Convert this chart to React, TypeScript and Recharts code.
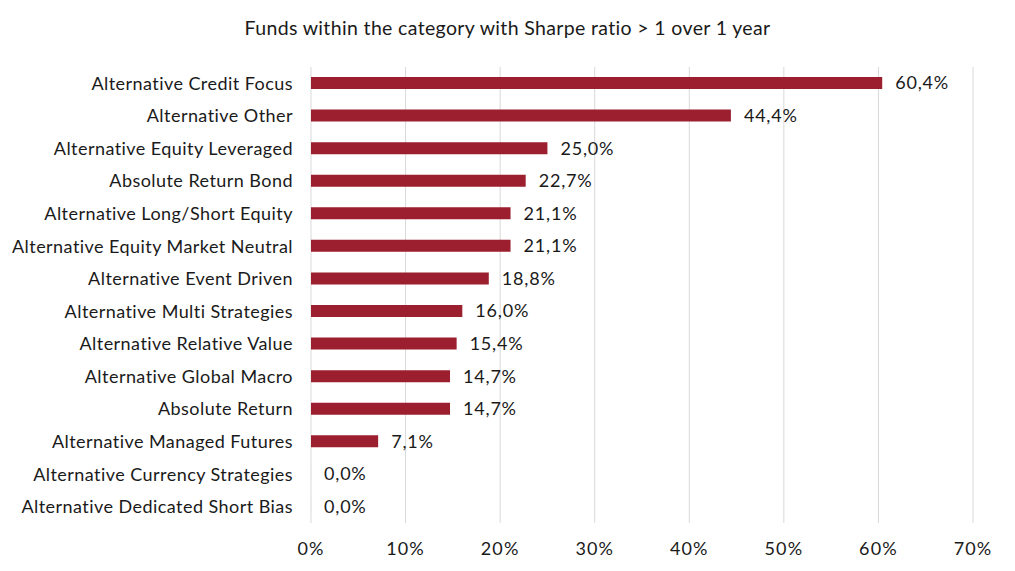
import React from "react";
import { BarChart, Bar, XAxis, YAxis, CartesianGrid, LabelList } from "recharts";

const categories = [
  "Alternative Credit Focus",
  "Alternative Other",
  "Alternative Equity Leveraged",
  "Absolute Return Bond",
  "Alternative Long/Short Equity",
  "Alternative Equity Market Neutral",
  "Alternative Event Driven",
  "Alternative Multi Strategies",
  "Alternative Relative Value",
  "Alternative Global Macro",
  "Absolute Return",
  "Alternative Managed Futures",
  "Alternative Currency Strategies",
  "Alternative Dedicated Short Bias",
];

const sharpeShare = [60.4, 44.4, 25.0, 22.7, 21.1, 21.1, 18.8, 16.0, 15.4, 14.7, 14.7, 7.1, 0.0, 0.0];

const xTicks = [0, 10, 20, 30, 40, 50, 60, 70];

const data = categories.map((name, i) => ({ name, value: sharpeShare[i] }));

const FONT = "Lato, 'Open Sans', sans-serif";
const INK = "#1a1a1a";

export default function App() {
  return (
    <div style={{ position: "absolute", left: 0, top: 0, width: 1015, height: 571, background: "#fff", fontFamily: FONT }}>
      <div
        style={{
          position: "absolute",
          top: 16,
          left: 0,
          width: 1015,
          textAlign: "center",
          fontSize: 19.5,
          letterSpacing: 0.35,
          color: INK,
        }}
      >
        Funds within the category with Sharpe ratio &gt; 1 over 1 year
      </div>
      <BarChart
        width={1015}
        height={571}
        data={data}
        layout="vertical"
        margin={{ top: 67, right: 42, bottom: 0, left: 0 }}
      >
        <CartesianGrid horizontal={false} stroke="#d9d9d9" />
        <XAxis
          type="number"
          domain={[0, 70]}
          ticks={xTicks}
          tickFormatter={(v) => `${v}%`}
          axisLine={false}
          tickLine={false}
          tickSize={0}
          tickMargin={19}
          height={48}
          tick={{ fill: INK, fontSize: 18, fontFamily: FONT, letterSpacing: 1.1 }}
        />
        <YAxis
          type="category"
          dataKey="name"
          width={311}
          axisLine={false}
          tickLine={false}
          tickSize={0}
          tickMargin={18}
          interval={0}
          tick={{ fill: INK, fontSize: 18, fontFamily: FONT, letterSpacing: 0.45 }}
        />
        <Bar dataKey="value" fill="#9b1f2f" barSize={12} minPointSize={0.01} isAnimationActive={false}>
          <LabelList
            dataKey="value"
            position="right"
            offset={13}
            formatter={(v) => `${Number(v).toFixed(1).replace(".", ",")}%`}
            style={{ fill: INK, fontSize: 18, fontFamily: FONT, letterSpacing: 0.8 }}
          />
        </Bar>
      </BarChart>
    </div>
  );
}
